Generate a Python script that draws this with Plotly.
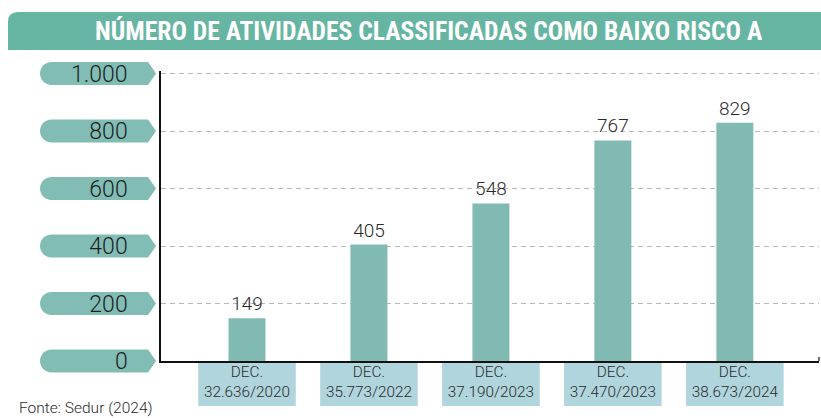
import plotly.graph_objects as go

# ---- data ----
categories = ["DEC.<br>32.636/2020", "DEC.<br>35.773/2022", "DEC.<br>37.190/2023",
              "DEC.<br>37.470/2023", "DEC.<br>38.673/2024"]
values = [149, 405, 548, 767, 829]
y_tickvals = [0, 200, 400, 600, 800, 1000]
y_ticktext = ["0", "200", "400", "600", "800", "1.000"]
title_text = "NÚMERO DE ATIVIDADES CLASSIFICADAS COMO BAIXO RISCO A"
source_text = "Fonte: Sedur (2024)"

# ---- layout geometry (pixels) ----
W, H = 821, 418
L, R, T, B = 161, 2, 71, 57
PW, PH = W - L - R, H - T - B
Y_MAX = 1000 * PH / 287.5


def px(x):
    return (x - L) / PW


def py(y):
    return (H - B - y) / PH


BAR_COLOR = "#80bab3"
PILL_COLOR = "#82bdb5"
BOX_COLOR = "#b0d5dd"
BANNER_COLOR = "#66b5a3"

fig = go.Figure(go.Bar(
    x=categories, y=values, width=0.303,
    marker=dict(color=BAR_COLOR, line=dict(width=0)),
    text=[str(v) for v in values], textposition="outside",
    textfont=dict(family="Roboto", size=19, color="#2a2a2a", weight=300),
    cliponaxis=False,
))

shapes = []
# banner
shapes.append(dict(type="path", xref="paper", yref="paper",
                   xsizemode="pixel", ysizemode="pixel",
                   xanchor=px(8), yanchor=py(12),
                   path="M 0,-38 L 0,-10 Q 0,0 10,0 L 813,0 L 813,-38 Z",
                   fillcolor=BANNER_COLOR, line=dict(width=0), layer="below"))
# pills for y ticks
r = 11.5
k = 0.5523 * r
cx = -109.5
pill = (f"M {cx},{r} L -13,{r} L -5,0 L -13,{-r} L {cx},{-r} "
        f"C {cx - k},{-r} {cx - r},{-k} {cx - r},0 "
        f"C {cx - r},{k} {cx - k},{r} {cx},{r} Z")
for v in y_tickvals:
    shapes.append(dict(type="path", xref="paper", yref="paper",
                       xsizemode="pixel", ysizemode="pixel",
                       xanchor=0, yanchor=v / Y_MAX, path=pill,
                       fillcolor=PILL_COLOR, line=dict(width=0), layer="below"))
# category boxes
for i, c in enumerate(categories):
    shapes.append(dict(type="rect", xref="x", yref="paper",
                       x0=i - 0.40, x1=i + 0.40, y0=py(362), y1=py(406),
                       fillcolor=BOX_COLOR, line=dict(width=0), layer="below"))
# small right-end tick on x axis
shapes.append(dict(type="line", xref="paper", yref="paper",
                   x0=1, x1=1, y0=0, y1=py(357),
                   line=dict(color="#111111", width=1.2)))

annotations = [
    dict(text=title_text, xref="paper", yref="paper", x=px(429), y=py(31),
         xanchor="center", yanchor="middle", showarrow=False,
         font=dict(family="Liberation Sans Narrow, Roboto Condensed, DejaVu Sans Condensed",
                   size=25.6, color="white", weight="bold")),
    dict(text=source_text, xref="paper", yref="paper", x=px(17), y=py(408),
         xanchor="left", yanchor="middle", showarrow=False,
         font=dict(family="Roboto", size=15.5, color="#2a2a2a", weight=300)),
]

fig.update_layout(
    width=W, height=H, margin=dict(l=L, r=R, t=T, b=B),
    paper_bgcolor="white", plot_bgcolor="white",
    showlegend=False, shapes=shapes, annotations=annotations,
    bargap=0.7,
    xaxis=dict(type="category", range=[-0.705, 4.69], showgrid=False,
               showline=True, linecolor="#111111", linewidth=1.5,
               ticks="", ticklabelstandoff=-4,
               tickfont=dict(family="Roboto", size=15.3, color="#2a2a2a", weight=300),
               fixedrange=True),
    yaxis=dict(range=[0, Y_MAX], tickvals=y_tickvals, ticktext=y_ticktext,
               showgrid=True, gridcolor="#b8b8b8", gridwidth=1.2, griddash="5px,4px",
               zeroline=False, showline=True, linecolor="#111111", linewidth=1.5,
               ticks="", ticklabelstandoff=27,
               tickfont=dict(family="Roboto", size=23, color="#1e1e1e", weight=300),
               fixedrange=True),
)

fig.write_html("out.html", config={"displayModeBar": False},
               post_script="document.body.style.margin='0';")
